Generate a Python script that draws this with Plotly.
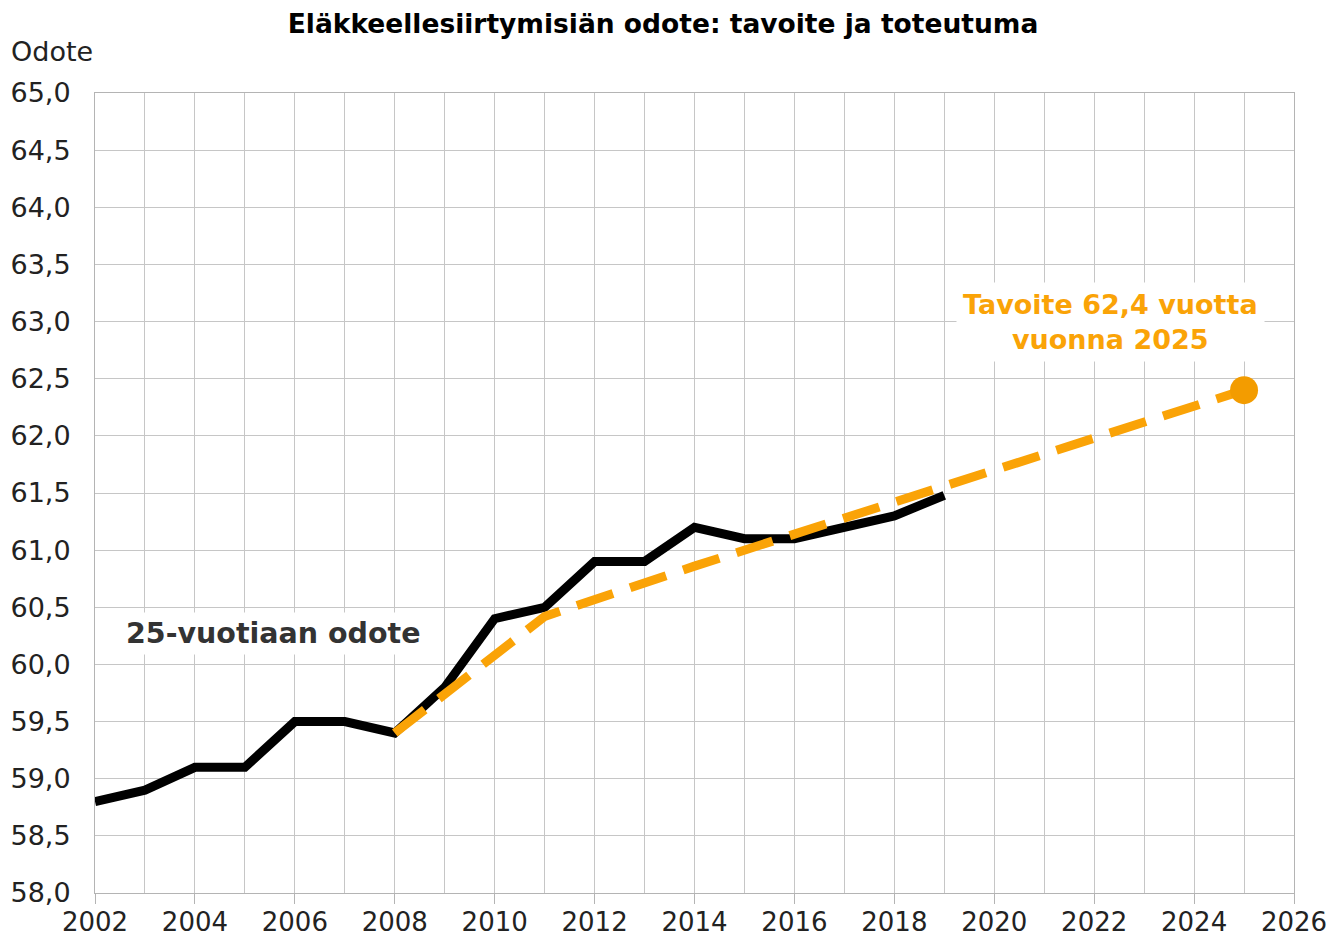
import plotly.graph_objects as go

# Toteutuma (actual)
years_actual = [2002, 2003, 2004, 2005, 2006, 2007, 2008, 2009, 2010, 2011,
                2012, 2013, 2014, 2015, 2016, 2017, 2018, 2019]
odote_actual = [58.8, 58.9, 59.1, 59.1, 59.5, 59.5, 59.4, 59.8, 60.4, 60.5,
                60.9, 60.9, 61.2, 61.1, 61.1, 61.2, 61.3, 61.48]

# Tavoite (target path)
years_target = [2008, 2010, 2011, 2014, 2016, 2018, 2020, 2022, 2024, 2025]
odote_target = [59.4, 60.08, 60.42, 60.86, 61.13, 61.42, 61.70, 61.98, 62.27, 62.4]

goal_year = [2025]
goal_value = [62.4]

x_ticks = list(range(2002, 2027, 2))

ORANGE = "#FAA307"
ORANGE_DOT = "#F39C00"
FONT = "DejaVu Sans"

W, H = 1336, 931  # page body has an 8px margin

fig = go.Figure()
fig.add_trace(go.Scatter(x=years_actual, y=odote_actual, mode="lines",
                         line=dict(color="black", width=9), hoverinfo="skip",
                         showlegend=False))
fig.add_trace(go.Scatter(x=years_target, y=odote_target, mode="lines",
                         line=dict(color=ORANGE, width=9, dash="38px,18px"),
                         showlegend=False))
fig.add_trace(go.Scatter(x=goal_year, y=goal_value, mode="markers",
                         marker=dict(color=ORANGE_DOT, size=28), showlegend=False))

fig.update_layout(
    width=W, height=H,
    margin=dict(l=87, r=50, t=85, b=46, autoexpand=False),
    paper_bgcolor="white", plot_bgcolor="white",
    separators=", ",
    font=dict(family=FONT, size=27, color="#222222"),
    title=dict(text="<b>Eläkkeellesiirtymisiän odote: tavoite ja toteutuma</b>",
               x=(663 - 8) / W, xanchor="center", y=1 - (24 - 8) / H, yanchor="middle",
               font=dict(family=FONT, size=26.5, color="black")),
    xaxis=dict(range=[2002, 2026], tickvals=x_ticks, ticktext=[str(v) for v in x_ticks],
               showgrid=True, gridcolor="#c6c6c6", gridwidth=1,
               minor=dict(dtick=1, tick0=2002, showgrid=True, gridcolor="#c6c6c6", gridwidth=1),
               ticks="outside", ticklen=10, tickcolor="#b4b4b4", tickwidth=1,
               showline=True, linecolor="#b4b4b4", linewidth=1, mirror=True,
               zeroline=False, automargin=False, ticklabelstandoff=-4,
               tickfont=dict(size=26, color="#222222")),
    yaxis=dict(range=[58, 65], dtick=0.5, tick0=58, tickformat=".1f",
               showgrid=True, gridcolor="#c6c6c6", gridwidth=1,
               showline=True, linecolor="#b4b4b4", linewidth=1, mirror=True,
               zeroline=False, ticks="", ticklabelstandoff=18, automargin=False,
               tickfont=dict(size=27, color="#222222")),
)

fig.add_annotation(text="Odote", xref="paper", yref="paper",
                   x=-86 / 1199, y=(893 - 51) / 800, xanchor="left", yanchor="middle",
                   showarrow=False, font=dict(family=FONT, size=27, color="#222222"))
fig.add_annotation(text="<b>25-vuotiaan odote</b>", x=2005.58, y=60.27,
                   showarrow=False, bgcolor="white", borderpad=4,
                   font=dict(family=FONT, size=28.5, color="#333333"))
fig.add_annotation(text="<b>Tavoite 62,4 vuotta<br>vuonna 2025</b>", x=2022.32, y=63.0,
                   showarrow=False, bgcolor="white", borderpad=6,
                   font=dict(family=FONT, size=27, color=ORANGE))

fig.write_html("out.html")
